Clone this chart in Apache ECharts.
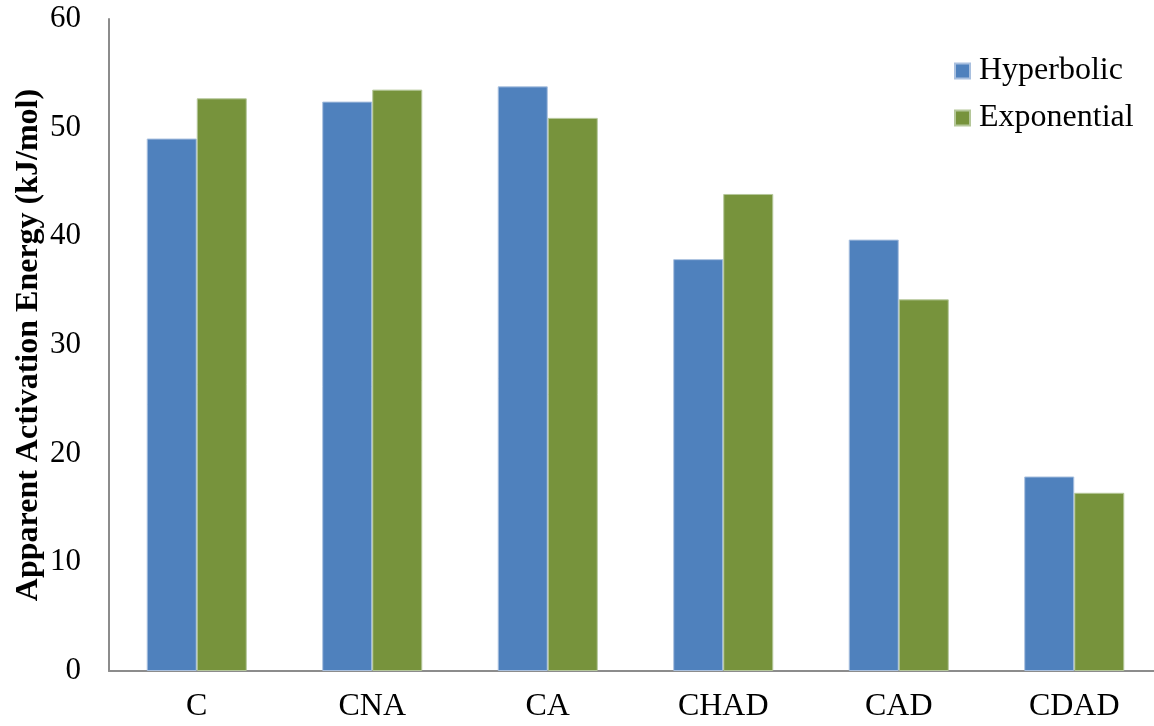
<!DOCTYPE html>
<html>
<head>
<meta charset="utf-8">
<script src="https://cdn.jsdelivr.net/npm/echarts@6/dist/echarts.min.js"></script>
<style>
  html, body { margin: 0; padding: 0; background: #fff; }
  #chart { width: 1154px; height: 726px; }
</style>
</head>
<body>
<div id="chart"></div>
<script>
// Apparent activation energy by sample, hyperbolic vs exponential fit
const categories = ['C', 'CNA', 'CA', 'CHAD', 'CAD', 'CDAD'];
const hyperbolic = [49.0, 52.4, 53.8, 37.9, 39.7, 17.9];
const exponential = [52.7, 53.5, 50.9, 43.9, 34.2, 16.4];
const seriesNames = ['Hyperbolic', 'Exponential'];
const yTicks = { min: 0, max: 60, interval: 10 };

const serif = '"Liberation Serif", "Times New Roman", serif';
const chart = echarts.init(document.getElementById('chart'), null, { renderer: 'canvas' });

chart.setOption({
  animation: false,
  backgroundColor: '#ffffff',
  // plot area runs slightly past the right edge of the canvas
  grid: {
    left: 109, width: 1053, top: 19, bottom: 55,
    containLabel: false,
    outerBoundsMode: 'none'
  },
  legend: {
    orient: 'vertical',
    left: 954,
    top: 55,
    padding: 0,
    itemWidth: 15,
    itemHeight: 15,
    itemGap: 15,
    icon: 'rect',
    textStyle: { fontFamily: serif, fontSize: 32, color: '#000', padding: [0, 0, 0, 4] },
    data: seriesNames
  },
  xAxis: {
    type: 'category',
    data: categories,
    axisLine: { show: true, lineStyle: { color: '#8c8c8c', width: 2 } },
    axisTick: { show: false },
    axisLabel: { fontFamily: serif, fontSize: 32, color: '#000', margin: 20 }
  },
  yAxis: {
    type: 'value',
    min: yTicks.min,
    max: yTicks.max,
    interval: yTicks.interval,
    name: 'Apparent Activation Energy (kJ/mol)',
    nameLocation: 'middle',
    nameGap: 64,
    nameMoveOverlap: false,
    nameRotate: 90,
    nameTextStyle: { fontFamily: serif, fontSize: 32, fontWeight: 'bold', color: '#000' },
    axisLine: { show: true, lineStyle: { color: '#8c8c8c', width: 2 } },
    axisTick: { show: false },
    splitLine: { show: false },
    axisLabel: { fontFamily: serif, fontSize: 31, color: '#000', margin: 28 }
  },
  series: [
    {
      name: seriesNames[0],
      type: 'bar',
      data: hyperbolic,
      barGap: '0%',
      barCategoryGap: '43%',
      itemStyle: { color: '#4F81BD', borderColor: '#a9c0df', borderWidth: 1 }
    },
    {
      name: seriesNames[1],
      type: 'bar',
      data: exponential,
      barGap: '0%',
      barCategoryGap: '43%',
      itemStyle: { color: '#77933C', borderColor: '#b5c79a', borderWidth: 1 }
    }
  ]
});
</script>
</body>
</html>
